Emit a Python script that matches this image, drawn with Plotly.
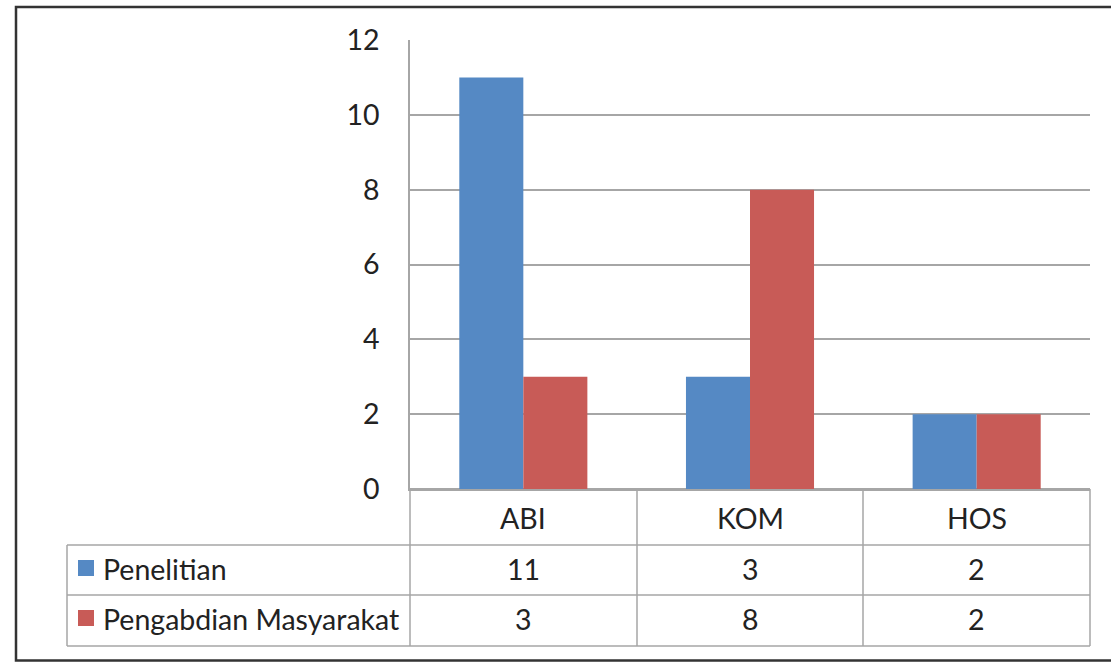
import plotly.graph_objects as go

# ---- data ----
categories = ["ABI", "KOM", "HOS"]
series_names = ["Penelitian", "Pengabdian Masyarakat"]
penelitian = [11, 3, 2]
pengabdian = [3, 8, 2]
series_values = [penelitian, pengabdian]
colors = ["#5589c4", "#c85b57"]

W, H = 1111, 662
def px(x):
    return x / W
def py(y):
    return 1 - y / H

FONT = "Lato"
FS = 28.5
TXT = "#222222"
GRID = "#a6a6a6"

fig = go.Figure()
for name, vals, col in zip(series_names, series_values, colors):
    fig.add_trace(go.Bar(x=categories, y=vals, name=name, marker=dict(color=col, line=dict(width=0))))

shapes = []
# outer border
shapes.append(dict(type="rect", xref="paper", yref="paper", x0=px(16), x1=px(1120), y0=py(660.5), y1=py(7),
                   line=dict(color="#333333", width=2.5), layer="above"))
tl = dict(color=GRID, width=1.5)
# table horizontal lines
for yy, x0 in [(545, 67), (595, 67), (646, 67)]:
    shapes.append(dict(type="line", xref="paper", yref="paper", x0=px(x0), x1=px(1090), y0=py(yy), y1=py(yy), line=tl))
# table vertical lines
shapes.append(dict(type="line", xref="paper", yref="paper", x0=px(67), x1=px(67), y0=py(545), y1=py(646), line=tl))
for xx in [410, 637, 863, 1090]:
    shapes.append(dict(type="line", xref="paper", yref="paper", x0=px(xx), x1=px(xx), y0=py(489), y1=py(646), line=tl))
# legend keys in table
for i, col in enumerate(colors):
    yc = [568, 618][i]
    shapes.append(dict(type="rect", xref="paper", yref="paper", x0=px(78), x1=px(94), y0=py(yc + 8), y1=py(yc - 8),
                       line=dict(width=0), fillcolor=col))

annotations = []
for c in categories:
    annotations.append(dict(x=c, xref="x", y=py(518), yref="paper", text=c, showarrow=False,
                            font=dict(family=FONT, size=FS, color=TXT), xanchor="center", yanchor="middle"))
for i, (name, vals) in enumerate(zip(series_names, series_values)):
    yc = [569, 619][i]
    annotations.append(dict(x=px(101), xref="paper", y=py(yc), yref="paper", text=name, showarrow=False,
                            font=dict(family=FONT, size=FS, color=TXT), xanchor="left", yanchor="middle"))
    for c, v in zip(categories, vals):
        annotations.append(dict(x=c, xref="x", y=py(yc), yref="paper", text=str(v), showarrow=False,
                                font=dict(family=FONT, size=FS, color=TXT), xanchor="center", yanchor="middle"))

fig.update_layout(
    width=W, height=H, autosize=False,
    margin=dict(l=0, r=0, t=0, b=0, pad=0, autoexpand=False),
    paper_bgcolor="white", plot_bgcolor="white",
    barmode="group", bargap=0.435, bargroupgap=0,
    showlegend=False,
    font=dict(family=FONT, size=FS, color=TXT),
    xaxis=dict(domain=[px(410), px(1090)], showticklabels=False, ticks="", showgrid=False, automargin=False,
               showline=True, linecolor=GRID, linewidth=1.5, fixedrange=True),
    yaxis=dict(domain=[py(489), py(40)], range=[0, 12], dtick=2, tick0=0, automargin=False,
               showgrid=True, gridcolor=GRID, gridwidth=1.5,
               zeroline=True, zerolinecolor=GRID, zerolinewidth=1.5,
               showline=True, linecolor=GRID, linewidth=1.5,
               ticks="", ticklabelstandoff=23, tickfont=dict(family=FONT, size=FS, color=TXT)),
    shapes=shapes,
    annotations=annotations,
)

fig.write_html(
    "out.html",
    config={"displayModeBar": False},
    post_script="document.body.style.margin='0';document.body.style.overflow='hidden';",
)
